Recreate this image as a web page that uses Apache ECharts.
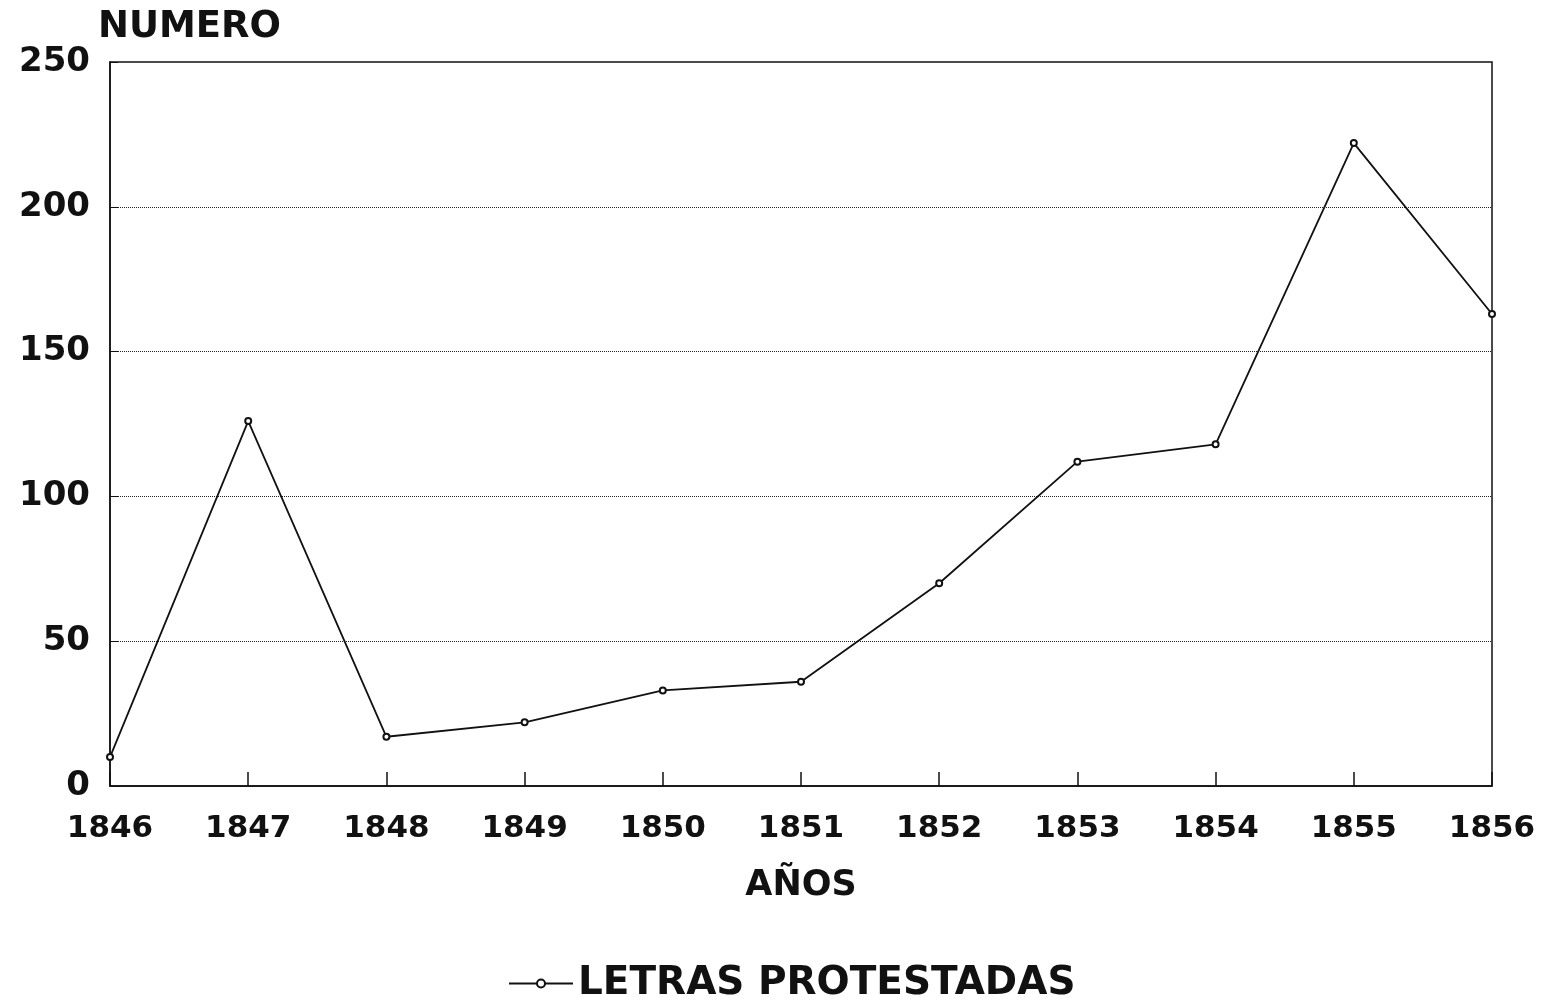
<!DOCTYPE html>
<html>
<head>
<meta charset="utf-8">
<script src="https://cdn.jsdelivr.net/npm/echarts@6/dist/echarts.min.js"></script>
<style>
  html, body { margin: 0; padding: 0; background: #fff; }
  #chart { width: 1548px; height: 1006px; }
</style>
</head>
<body>
<div id="chart"></div>
<script>
var years = ['1846', '1847', '1848', '1849', '1850', '1851', '1852', '1853', '1854', '1855', '1856'];
var letras = [10, 126, 17, 22, 33, 36, 70, 112, 118, 222, 163];

var font = 'DejaVu Sans, sans-serif';

var myChart = echarts.init(document.getElementById('chart'));
var option = {
  backgroundColor: '#fff',
  animation: false,
  grid: {
    left: 110,
    right: 56,
    top: 62,
    bottom: 220,
    show: true,
    borderColor: '#111',
    borderWidth: 1.5
  },
  legend: {
    bottom: -2,
    left: 503,
    itemWidth: 64,
    itemHeight: 10,
    data: ['LETRAS PROTESTADAS'],
    textStyle: { fontFamily: font, fontWeight: 'bold', fontSize: 39, color: '#111' }
  },
  xAxis: {
    type: 'category',
    data: years,
    boundaryGap: false,
    name: 'AÑOS',
    nameLocation: 'middle',
    nameGap: 82,
    nameTextStyle: { fontFamily: font, fontWeight: 'bold', fontSize: 35, color: '#111' },
    axisLine: { lineStyle: { color: '#111', width: 1.5 } },
    axisTick: { inside: true, length: 14, lineStyle: { color: '#111', width: 1.5 } },
    axisLabel: { margin: 27, fontFamily: font, fontWeight: 'bold', fontSize: 31, color: '#111' },
    splitLine: { show: false }
  },
  yAxis: {
    type: 'value',
    min: 0,
    max: 250,
    interval: 50,
    name: 'NUMERO',
    nameLocation: 'end',
    nameGap: 16,
    nameTextStyle: { fontFamily: font, fontWeight: 'bold', fontSize: 37, color: '#111', align: 'left', padding: [0, 0, 0, -12] },
    axisLine: { show: true, lineStyle: { color: '#111', width: 1.5 } },
    axisTick: { show: true, inside: true, length: 8, lineStyle: { color: '#111' } },
    axisLabel: { margin: 20, fontFamily: font, fontWeight: 'bold', fontSize: 34, color: '#111' },
    splitLine: { show: true, showMaxLine: false, lineStyle: { color: '#222', type: 'dotted', width: 1 } }
  },
  series: [
    {
      name: 'LETRAS PROTESTADAS',
      type: 'line',
      data: letras,
      symbol: 'emptyCircle',
      symbolSize: 6,
      lineStyle: { color: '#111', width: 1.8 },
      itemStyle: { color: '#111', borderWidth: 1.5 }
    }
  ]
};
myChart.setOption(option);
window.addEventListener('resize', myChart.resize);
</script>
</body>
</html>
